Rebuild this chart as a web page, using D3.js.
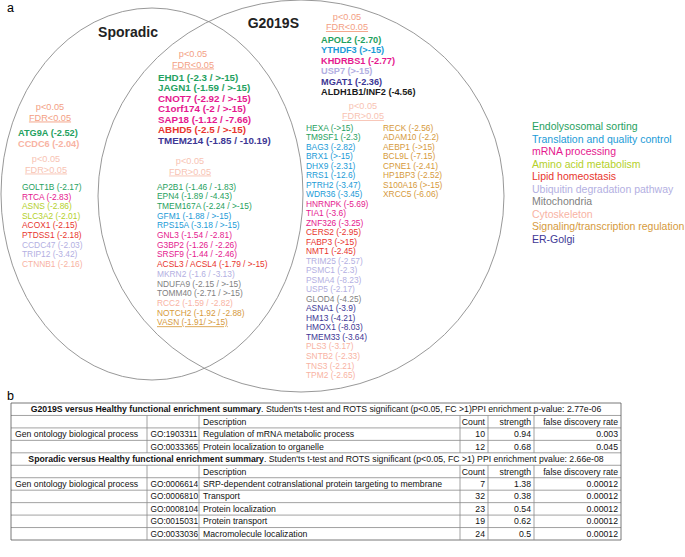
<!DOCTYPE html>
<html><head><meta charset="utf-8">
<script src="https://cdn.jsdelivr.net/npm/d3@7"></script>
<style>
body{margin:0;background:#fff}
svg{display:block}
text{font-family:"Liberation Sans",Arial,Helvetica,sans-serif}
</style>
</head><body>
<svg id="chart" width="685" height="557"></svg>
<script>
// ---------- DATA ----------
const categories = ["Endolysosomal sorting","Translation and quality control","mRNA processing","Amino acid metabolism","Lipid homeostasis","Ubiquitin degradation pathway","Mitochondria","Cytoskeleton","Signaling/transcription regulation","ER-Golgi"];
const categoryKeys = ["endo","trans","mrna","amino","lipid","ubiq","mito","cyto","sig","er"];
const palette = ["#1fa160","#1b9bd7","#e5188e","#b4d02a","#e8352e","#b3afe2","#7f7f7f","#f8b3a3","#d69a3c","#3d3795"];

const sporadicSig = [["ATG9A","(-2.52)","endo"],["CCDC6","(-2.04)","cyto"]];
const sporadicNonSig = [["GOLT1B","(-2.17)","endo"],["RTCA","(-2.83)","mrna"],["ASNS","(-2.86)","amino"],["SLC3A2","(-2.01)","amino"],["ACOX1","(-2.15)","lipid"],["PTDSS1","(-2.18)","lipid"],["CCDC47","(-2.03)","ubiq"],["TRIP12","(-3.42)","ubiq"],["CTNNB1","(-2.16)","cyto"]];
const sharedSig = [["EHD1","(-2.3 / >-15)","endo"],["JAGN1","(-1.59 / >-15)","endo"],["CNOT7","(-2.92 / >-15)","mrna"],["C1orf174","(-2 / >-15)","mrna"],["SAP18","(-1.12 / -7.66)","mrna"],["ABHD5","(-2.5 / >-15)","lipid"],["TMEM214","(-1.85 / -10.19)","er"]];
const sharedNonSig = [["AP2B1","(-1.46 / -1.83)","endo"],["EPN4","(-1.89 / -4.43)","endo"],["TMEM167A","(-2.24 / >-15)","endo"],["GFM1","(-1.88 / >-15)","trans"],["RPS15A","(-3.18 / >-15)","trans"],["GNL3","(-1.54 / -2.81)","mrna"],["G3BP2","(-1.26 / -2.26)","mrna"],["SRSF9","(-1.44 / -2.46)","mrna"],["ACSL3 / ACSL4","(-1.79 / >-15)","lipid"],["MKRN2","(-1.6 / -3.13)","ubiq"],["NDUFA9","(-2.15 / >-15)","mito"],["TOMM40","(-2.71 / >-15)","mito"],["RCC2","(-1.59 / -2.82)","cyto"],["NOTCH2","(-1.92  / -2.88)","sig"],["VASN","(-1.91/ >-15)","sig"]];
const g2019sSig = [["APOL2","(-2.70)","endo"],["YTHDF3","(>-15)","trans"],["KHDRBS1","(-2.77)","mrna"],["USP7","(>-15)","ubiq"],["MGAT1","(-2.36)","er"],["ALDH1B1/INF2","(-4.56)","other"]];
const g2019sNonSigA = [["HEXA","(->15)","endo"],["TM9SF1","(-2.3)","endo"],["BAG3","(-2.82)","trans"],["BRX1","(>-15)","trans"],["DHX9","(-2.31)","trans"],["RRS1","(-12.6)","trans"],["PTRH2","(-3.47)","trans"],["WDR36","(-3.45)","trans"],["HNRNPK","(-5.69)","mrna"],["TIA1","(-3.6)","mrna"],["ZNF326","(-3.25)","mrna"],["CERS2","(-2.95)","lipid"],["FABP3","(->15)","lipid"],["NMT1","(-2.45)","lipid"],["TRIM25","(-2.57)","ubiq"],["PSMC1","(-2.3)","ubiq"],["PSMA4","(-8.23)","ubiq"],["USP5","(-2.17)","ubiq"],["GLOD4","(-4.25)","mito"],["ASNA1","(-3.9)","er"],["HM13","(-4.21)","er"],["HMOX1","(-8.03)","er"],["TMEM33","(-3.64)","er"],["PLS3","(-3.17)","cyto"],["SNTB2","(-2.33)","cyto"],["TNS3","(-2.21)","cyto"],["TPM2","(-2.65)","cyto"]];
const g2019sNonSigB = [["RECK","(-2.56)","sig"],["ADAM10","(-2.2)","sig"],["AEBP1","(->15)","sig"],["BCL9L","(-7.15)","sig"],["CPNE1","(-2.41)","sig"],["HP1BP3","(-2.52)","sig"],["S100A16","(>-15)","sig"],["XRCC5","(-6.06)","sig"]];
const underlinedGenes = ["VASN"];

const setNames = ["Sporadic","G2019S"];
const pLabel = "p<0.05";
const fdrLabels = ["FDR<0.05","FDR>0.05"];

const tableHeader = ["","","Description","Count","strength","false discovery rate"];
const g2019sTitleBold = "G2019S versus Healthy functional enrichment summary";
const g2019sTitleRest = ". Studen'ts t-test and ROTS significant (p<0.05, FC >1)PPI enrichment p-value: 2.77e-06";
const g2019sTerms = [["Gen ontology biological process","GO:1903311","Regulation of mRNA metabolic process","10","0.94","0.003"],["","GO:0033365","Protein localization to organelle","12","0.68","0.045"]];
const sporadicTitleBold = "Sporadic versus Healthy functional enrichment summary";
const sporadicTitleRest = ". Studen'ts t-test and ROTS significant (p<0.05, FC >1) PPI enrichment pvalue: 2.66e-08";
const sporadicTerms = [["Gen ontology biological process","GO:0006614","SRP-dependent cotranslational protein targeting to membrane","7","1.38","0.00012"],["","GO:0006810","Transport","32","0.38","0.00012"],["","GO:0008104","Protein localization","23","0.54","0.00012"],["","GO:0015031","Protein transport","19","0.62","0.00012"],["","GO:0033036","Macromolecule localization","24","0.5","0.00012"]];

// ---------- DRAW ----------
const svg = d3.select("#chart");
const color = d3.scaleOrdinal().domain([...categoryKeys,"other"]).range([...palette,"#1a1a1a"]);
const hdrSig = "#f3a084", hdrNon = "#f8c3b3";

svg.append("text").attr("x",7).attr("y",12).attr("font-size",12.5).text("a");
svg.append("text").attr("x",7).attr("y",400).attr("font-size",12.5).text("b");

const venn = svg.append("g").attr("fill","none").attr("stroke","#8c8c8c").attr("stroke-width",0.9);
venn.append("ellipse").attr("cx",152).attr("cy",194).attr("rx",151).attr("ry",186);
venn.append("ellipse").attr("cx",301).attr("cy",196).attr("rx",203).attr("ry",196);

svg.append("text").attr("x",128).attr("y",37).attr("text-anchor","middle").attr("font-size",14).attr("font-weight","bold").attr("fill","#222").text(setNames[0]);
svg.append("text").attr("x",299).attr("y",28).attr("text-anchor","end").attr("font-size",14).attr("font-weight","bold").attr("fill","#222").text(setNames[1]);

function header(cx, y, sig){
  const col = sig ? hdrSig : hdrNon;
  svg.append("text").attr("x",cx).attr("y",y).attr("text-anchor","middle").attr("font-size",9.2).attr("fill",col).text(pLabel);
  svg.append("text").attr("x",cx).attr("y",y+10.5).attr("text-anchor","middle").attr("font-size",9.2).attr("fill",col)
    .style("text-decoration","underline").text(sig ? fdrLabels[0] : fdrLabels[1]);
}
function list(items, x, y0, dy, size, bold){
  const yS = d3.scaleLinear().domain([0,1]).range([y0, y0+dy]);
  svg.append("g").selectAll("text").data(items).join("text")
    .attr("x",x).attr("y",(d,i)=>yS(i))
    .attr("font-size",size).attr("font-weight",bold?"bold":"normal")
    .attr("fill",d=>color(d[2]))
    .style("text-decoration",d=>underlinedGenes.includes(d[0])?"underline":null)
    .text(d=>d[0]+" "+d[1]);
}

header(50,110,true);
list(sporadicSig,18,136,11,9.2,true);
header(46,162,false);
list(sporadicNonSig,22,190,9.6,8.4,false);

header(193,57,true);
list(sharedSig,158,81,10.45,9.8,true);
header(190,164,false);
list(sharedNonSig,157,189.5,9.7,8.4,false);

header(347,19.5,true);
list(g2019sSig,321,43,10.4,9.2,true);
header(363,108.5,false);
list(g2019sNonSigA,306,130.5,9.52,8.4,false);
list(g2019sNonSigB,383,130.5,9.52,8.4,false);

const legY = d3.scaleLinear().domain([0,1]).range([130,142.5]);
svg.append("g").selectAll("text").data(categories).join("text")
  .attr("x",532).attr("y",(d,i)=>legY(i)).attr("font-size",10.5)
  .attr("fill",(d,i)=>color(categoryKeys[i])).text(d=>d);

// ---------- TABLE ----------
const colEdges = [11,147,199,460,488,534,621];
const nRows = 2 + g2019sTerms.length + 2 + sporadicTerms.length;
const rowY = d3.scaleLinear().domain([0,nRows]).range([403,540]);
const tbl = svg.append("g");
const fs = 8.7;
const lineCol = "#8a8a8a";

for(let r=0;r<=nRows;r++){
  tbl.append("line").attr("x1",colEdges[0]).attr("x2",colEdges[6]).attr("y1",rowY(r)).attr("y2",rowY(r))
    .attr("stroke",r===0||r===nRows?"#555":lineCol).attr("stroke-width",0.8);
}
[colEdges[0],colEdges[6]].forEach(x=>tbl.append("line").attr("x1",x).attr("x2",x).attr("y1",rowY(0)).attr("y2",rowY(nRows)).attr("stroke","#555").attr("stroke-width",0.8));

function section(startRow, boldTitle, restTitle, terms){
  const t = tbl.append("text").attr("x",(colEdges[0]+colEdges[6])/2).attr("y",rowY(startRow)+9.3)
    .attr("text-anchor","middle").attr("font-size",fs).attr("fill","#111");
  t.append("tspan").attr("font-weight","bold").text(boldTitle);
  t.append("tspan").text(restTitle);
  const r0 = startRow+1, r1 = startRow+2+terms.length;
  colEdges.slice(1,6).forEach(x=>tbl.append("line").attr("x1",x).attr("x2",x).attr("y1",rowY(r0)).attr("y2",rowY(r1)).attr("stroke",lineCol).attr("stroke-width",0.8));
  const rows = [tableHeader, ...terms];
  rows.forEach((row,ri)=>{
    const y = rowY(r0+ri)+9.3;
    row.forEach((cell,ci)=>{
      if(!cell) return;
      const right = ci>=3;
      tbl.append("text").attr("x", right ? colEdges[ci+1]-3 : colEdges[ci]+(ci===1?3.5:4))
        .attr("y",y).attr("text-anchor", right?"end":"start")
        .attr("font-size", ci===1 ? 8.3 : fs).attr("fill","#111").text(cell);
    });
  });
}
section(0, g2019sTitleBold, g2019sTitleRest, g2019sTerms);
section(2+g2019sTerms.length, sporadicTitleBold, sporadicTitleRest, sporadicTerms);
</script>
</body></html>
